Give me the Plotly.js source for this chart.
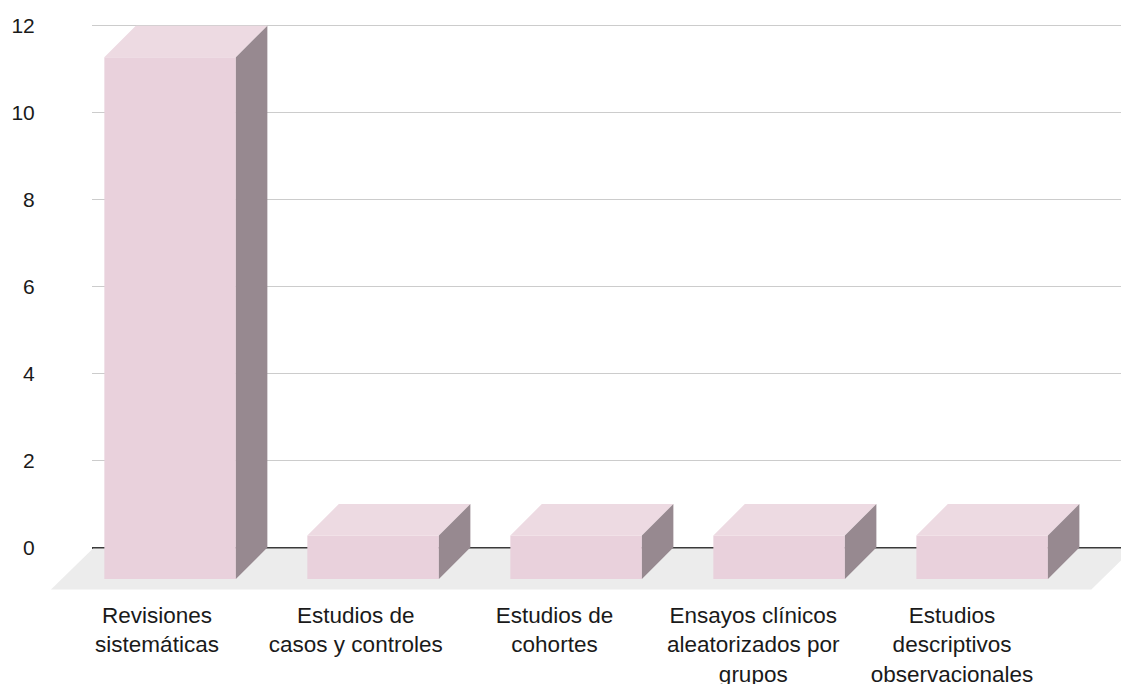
<!DOCTYPE html>
<html>
<head>
<meta charset="utf-8">
<script src="https://cdn.plot.ly/plotly-3.0.1.min.js"></script>
<style>html,body{margin:0;padding:0;background:#fff}</style>
</head>
<body>
<div id="chart" style="width:1121px;height:684px"></div>
<script>
// Study types and the number of studies of each type
const categories = [
  'Revisiones sistemáticas',
  'Estudios de casos y controles',
  'Estudios de cohortes',
  'Ensayos clínicos aleatorizados por grupos',
  'Estudios descriptivos observacionales'
];
const tickLabels = [
  'Revisiones<br>sistemáticas',
  'Estudios de<br>casos y controles',
  'Estudios de<br>cohortes',
  'Ensayos clínicos<br>aleatorizados por<br>grupos',
  'Estudios<br>descriptivos<br>observacionales'
];
const counts = [12, 1, 1, 1, 1];
const yTicks = [0, 2, 4, 6, 8, 10, 12];

// Pseudo-3D box geometry, in axis units of the bar subplot
const BAR_W = 0.648;   // width of each box
const DX = 0.155;      // horizontal depth of a box
const DY = 0.724;      // vertical depth of a box
// floor slab: back edge just under the baseline, slanted front edge
const FLOOR = {x0: -0.535, x1: 4.59, y0: -0.023, dx: 0.207, dy: 0.966};
const Y_RANGE = [-1.0, 12.2];

const COLORS = {
  front: '#e9d1dc',
  top: '#eddae2',
  side: '#978990',
  floor: '#ececec',
  grid: '#cccccc',
  zero: '#3a3a3a',
  text: '#1a1a1a'
};
const FONT = 'Arial, "Liberation Sans", sans-serif';

const pos = counts.map((_, i) => i);

// Top and side faces of every box, joined into one polygon trace each
const topX = [], topY = [], sideX = [], sideY = [];
pos.forEach((p, i) => {
  const v = counts[i];
  const xl = p - DX - BAR_W / 2;   // front-left edge
  const xr = p - DX + BAR_W / 2;   // front-right edge
  topX.push(xl, xr, xr + DX, xl + DX, xl, null);
  topY.push(v - DY, v - DY, v, v, v - DY, null);
  sideX.push(xr, xr + DX, xr + DX, xr, xr, null);
  sideY.push(v - DY, v, 0, -DY, v - DY, null);
});

const traces = [
  // keeps the value grid subplot drawn
  {
    type: 'scatter', mode: 'markers', xaxis: 'x', yaxis: 'y',
    x: [0, 1], y: [0, 12], marker: {opacity: 0},
    hoverinfo: 'skip', showlegend: false
  },
  // front faces
  {
    type: 'bar', xaxis: 'x2', yaxis: 'y2',
    x: pos.map(p => p - DX),
    y: counts,
    base: counts.map(() => -DY),
    width: BAR_W,
    marker: {color: COLORS.front, line: {width: 0}},
    hoverinfo: 'skip', showlegend: false
  },
  {
    type: 'scatter', mode: 'lines', xaxis: 'x2', yaxis: 'y2',
    x: topX, y: topY, fill: 'toself', fillcolor: COLORS.top,
    line: {width: 0}, hoverinfo: 'skip', showlegend: false
  },
  {
    type: 'scatter', mode: 'lines', xaxis: 'x2', yaxis: 'y2',
    x: sideX, y: sideY, fill: 'toself', fillcolor: COLORS.side,
    line: {width: 0}, hoverinfo: 'skip', showlegend: false
  },
  // carries the category axis labels
  {
    type: 'scatter', mode: 'markers', xaxis: 'x3', yaxis: 'y2',
    x: categories, y: counts, marker: {opacity: 0},
    hoverinfo: 'skip', showlegend: false
  }
];

// floor under the boxes, kept below the traces
const floorPath = 'M ' + FLOOR.x0 + ' ' + FLOOR.y0 + ' L ' + FLOOR.x1 + ' ' + FLOOR.y0 + ' L ' +
  (FLOOR.x1 - FLOOR.dx) + ' ' + (-FLOOR.dy) + ' L ' +
  (FLOOR.x0 - FLOOR.dx) + ' ' + (-FLOOR.dy) + ' Z';

const layout = {
  width: 1121, height: 684,
  margin: {l: 0, r: 0, t: 17, b: 93},
  paper_bgcolor: '#ffffff', plot_bgcolor: 'rgba(0,0,0,0)',
  showlegend: false,
  font: {family: FONT, color: COLORS.text},
  shapes: [{
    type: 'path', xref: 'x2', yref: 'y2', layer: 'below',
    path: floorPath, fillcolor: COLORS.floor, line: {width: 0}
  }],
  // back wall: value grid
  xaxis: {domain: [92 / 1121, 1], range: [0, 1], visible: false, anchor: 'y'},
  yaxis: {
    anchor: 'x', range: Y_RANGE,
    tickmode: 'array', tickvals: yTicks,
    showgrid: true, gridcolor: COLORS.grid, gridwidth: 1,
    zeroline: true, zerolinecolor: COLORS.zero, zerolinewidth: 2,
    showline: false, ticks: 'outside', ticklen: 52, tickcolor: 'rgba(0,0,0,0)',
    tickfont: {size: 21, color: COLORS.text, family: FONT}
  },
  // boxes
  xaxis2: {domain: [0, 1], range: [-0.993, 4.529], visible: false, anchor: 'y2'},
  yaxis2: {domain: [0, 1], range: Y_RANGE, visible: false, anchor: 'x2'},
  // category labels
  xaxis3: {
    domain: [0.0514, 0.9379], anchor: 'y2', type: 'category',
    range: [-0.5, 4.5],
    categoryorder: 'array', categoryarray: categories,
    tickmode: 'array', tickvals: categories, ticktext: tickLabels,
    showgrid: false, zeroline: false, showline: false,
    ticks: 'outside', ticklen: 4, tickcolor: 'rgba(0,0,0,0)',
    tickfont: {size: 22.5, color: COLORS.text, family: FONT}
  }
};

Plotly.newPlot('chart', traces, layout, {staticPlot: true, displayModeBar: false});
</script>
</body>
</html>
